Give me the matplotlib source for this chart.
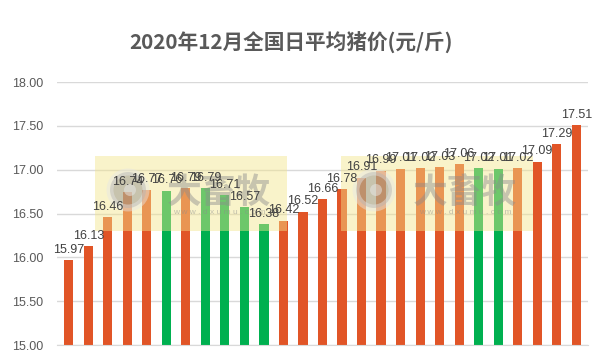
import matplotlib.pyplot as plt
from matplotlib.patches import Rectangle, Ellipse

plt.rcParams['font.family'] = ['Liberation Sans', 'Noto Sans CJK SC', 'DejaVu Sans']

# ── data ────────────────────────────────────────────────────────────────────
days = list(range(1, 28))
prices = [15.97, 16.13, 16.46, 16.74, 16.77, 16.76, 16.79, 16.79, 16.71,
          16.57, 16.38, 16.42, 16.52, 16.66, 16.78, 16.91, 16.99, 17.01,
          17.02, 17.03, 17.06, 17.02, 17.01, 17.02, 17.09, 17.29, 17.51]
falling = [6, 8, 9, 10, 11, 22, 23]   # days drawn in green
y_ticks = [15.0, 15.5, 16.0, 16.5, 17.0, 17.5, 18.0]

ORANGE = '#E15527'
GREEN = '#00B050'
colors = [GREEN if d in falling else ORANGE for d in days]

W, H = 603, 361

# ── figure ─────────────────────────────────────────────────────────────────
fig = plt.figure(figsize=(W / 100, H / 100), dpi=100)
ax = fig.add_axes([57 / W, 16 / H, 531 / W, 263 / H])

ax.bar(days, prices, width=0.47, color=colors, zorder=2)
for d, p in zip(days, prices):
    ax.text(d, p + 0.05, f'{p:.2f}', ha='center', va='bottom',
            fontsize=9, color='#404040', zorder=6)

ax.set_ylim(15.0, 18.0)
ax.set_xlim(0.4, 27.6)
ax.set_yticks(y_ticks)
ax.set_yticklabels([f'{t:.2f}' for t in y_ticks])
ax.set_xticks([])
ax.tick_params(axis='y', length=0, colors='#595959', labelsize=9, pad=10)
ax.yaxis.grid(True, color='#D9D9D9', linewidth=1, zorder=0)
for s in ['top', 'right', 'left']:
    ax.spines[s].set_visible(False)
ax.spines['bottom'].set_color('#D9D9D9')

fig.text(291.5 / W, 1 - 43 / H, '2020年12月全国日平均猪价(元/斤)', ha='center',
         va='center', fontsize=14.9, fontweight='bold', color='#595959',
         family=['Noto Sans CJK SC', 'DejaVu Sans'])

# ── watermark boxes ────────────────────────────────────────────────────────
tf = fig.transFigure
for x0 in (95, 341):
    ax.add_patch(Rectangle((x0 / W, 1 - 231 / H), 192 / W, 75 / H, transform=tf,
                           facecolor='#F3E58A', alpha=0.45, edgecolor='none',
                           zorder=3, clip_on=False))
    ax.add_patch(Ellipse(((x0 + 33) / W, 1 - 190 / H), 36 / W, 36 / H, transform=tf,
                         facecolor='#8A8A8A', edgecolor='#E6E6E6', linewidth=5,
                         alpha=0.45, zorder=3, clip_on=False))
    ax.add_patch(Ellipse(((x0 + 35) / W, 1 - 190 / H), 12 / W, 12 / H, transform=tf,
                         facecolor='#E8E8E8', edgecolor='none',
                         alpha=0.5, zorder=3, clip_on=False))
    ax.text((x0 + 124) / W, 1 - 192 / H, '大畜牧', transform=tf, ha='center',
            va='center', fontsize=25, fontweight='bold', color='#8C8C8C',
            alpha=0.45, family=['Noto Sans CJK SC'], zorder=4)
    ax.text((x0 + 124) / W, 1 - 212 / H, 'w w w . d x u m u . c o m', transform=tf,
            ha='center', va='center', fontsize=6, color='#8C8C8C', alpha=0.5,
            zorder=4)

fig.savefig('out.png', dpi=100)
